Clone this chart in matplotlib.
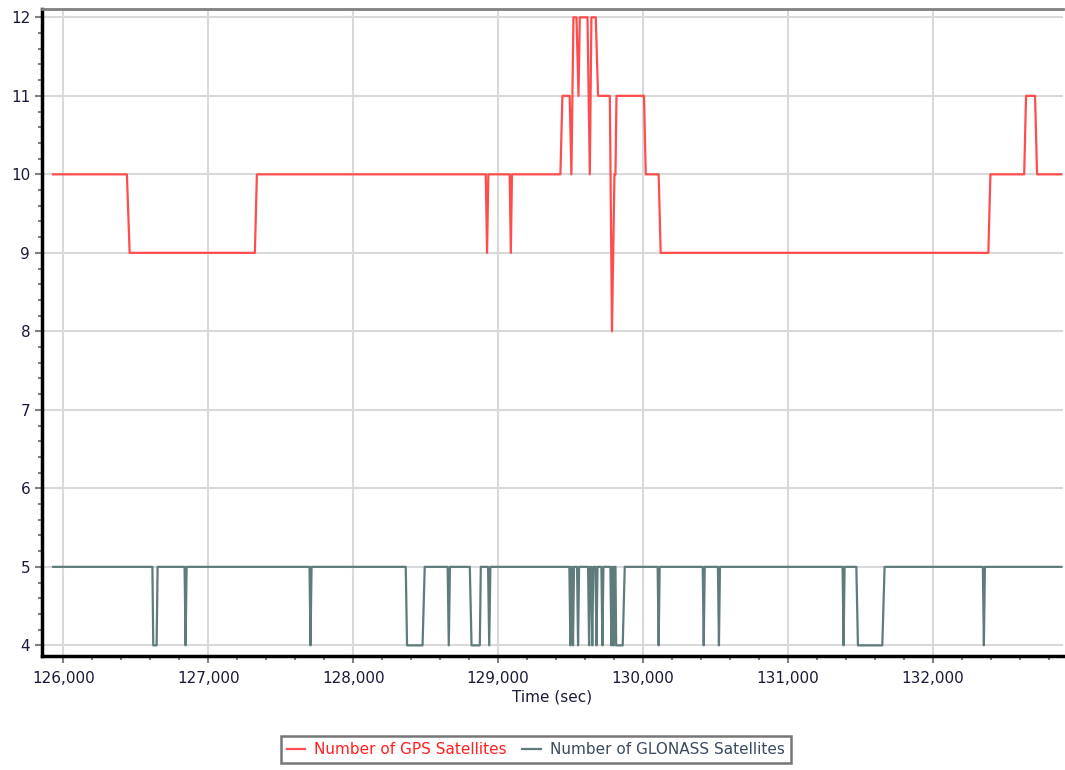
import matplotlib
matplotlib.use('Agg')
import matplotlib.pyplot as plt
from matplotlib.ticker import FuncFormatter, MultipleLocator

# GPS satellite count, vertices (time in sec)
gps_t = [125929, 126439, 126458, 127322, 127336,
         128915, 128924, 128933, 129080, 129088, 129096,
         129430, 129444, 129494, 129506, 129520, 129541, 129555, 129564,
         129617, 129633, 129644, 129674, 129690, 129771, 129786, 129803,
         129810, 129817, 130007, 130019, 130108, 130122,
         132383, 132397, 132630, 132643, 132705, 132719, 132886]
gps_n = [10, 10, 9, 9, 10,
         10, 9, 10, 10, 9, 10,
         10, 11, 11, 10, 12, 12, 11, 12,
         12, 10, 12, 12, 11, 11, 8, 10,
         10, 11, 11, 10, 10, 9,
         9, 10, 10, 11, 11, 10, 10]

# GLONASS satellite count
glo_t = [125931, 126615, 126621, 126644, 126651,
         126837, 126844, 126851, 127699, 127706, 127713,
         128363, 128372, 128479, 128494, 128652, 128660, 128668,
         128805, 128817, 128874, 128881, 128931, 128939, 128947,
         129492, 129499, 129506, 129510, 129517, 129524, 129545, 129552, 129559,
         129621, 129628, 129635, 129643, 129650, 129657, 129672, 129679, 129686,
         129713, 129720, 129727, 129775, 129782, 129789, 129792, 129798, 129804,
         129810, 129815, 129860, 129874,
         130101, 130108, 130115, 130412, 130419, 130426, 130517, 130524, 130531,
         131377, 131384, 131391, 131472, 131483, 131651, 131667,
         132345, 132352, 132359, 132886]
glo_n = [5, 5, 4, 4, 5,
         5, 4, 5, 5, 4, 5,
         5, 4, 4, 5, 5, 4, 5,
         5, 4, 4, 5, 5, 4, 5,
         5, 4, 5, 5, 4, 5, 5, 4, 5,
         5, 4, 5, 5, 4, 5, 5, 4, 5,
         5, 4, 5, 5, 4, 5, 5, 4, 5,
         5, 4, 4, 5,
         5, 4, 5, 5, 4, 5, 5, 4, 5,
         5, 4, 5, 5, 4, 4, 5,
         5, 4, 5, 5]

gps_color = '#ff4d4d'
glo_color = '#5f7b7b'

fig = plt.figure(figsize=(10.65, 7.7), dpi=100)
ax = fig.add_axes([0.0394, 0.148, 0.9586, 0.8403])

ax.plot(gps_t, gps_n, color=gps_color, linewidth=1.6, label='Number of GPS Satellites')
ax.plot(glo_t, glo_n, color=glo_color, linewidth=1.6, label='Number of GLONASS Satellites')

ax.set_xlim(125853, 132897)
ax.set_ylim(3.864, 12.106)
ax.xaxis.set_major_locator(MultipleLocator(1000))
ax.xaxis.set_minor_locator(MultipleLocator(200))
ax.yaxis.set_major_locator(MultipleLocator(1))
ax.yaxis.set_minor_locator(MultipleLocator(0.2))
ax.xaxis.set_major_formatter(FuncFormatter(lambda v, p: f'{int(v):,}'))

ax.grid(True, which='major', color='#d9d9d9', linewidth=1.5)
ax.set_axisbelow(True)

ax.tick_params(which='major', length=5, width=1.5, color='#808080',
               labelsize=11, labelcolor='#1a1a3a')
ax.tick_params(axis='x', which='major', pad=6)
ax.tick_params(which='minor', length=3, width=1.5, color='#808080')

ax.spines['left'].set_color('black')
ax.spines['left'].set_linewidth(2.5)
ax.spines['bottom'].set_color('black')
ax.spines['bottom'].set_linewidth(2.5)
ax.spines['top'].set_color('#808080')
ax.spines['top'].set_linewidth(2)
ax.spines['right'].set_visible(False)

ax.set_xlabel('Time (sec)', fontsize=11, color='#1a1a3a', labelpad=2)

leg = fig.legend(loc='center', bbox_to_anchor=(0.503, 0.0266), ncol=2,
                 fontsize=11, frameon=True, fancybox=False,
                 handlelength=1.2, handletextpad=0.6, columnspacing=1.0,
                 borderpad=0.4)
leg.get_frame().set_edgecolor('#555555')
leg.get_frame().set_linewidth(1.8)
for txt, c in zip(leg.get_texts(), ['#ff2020', '#3a4a5e']):
    txt.set_color(c)

plt.savefig('out.png', dpi=100)
